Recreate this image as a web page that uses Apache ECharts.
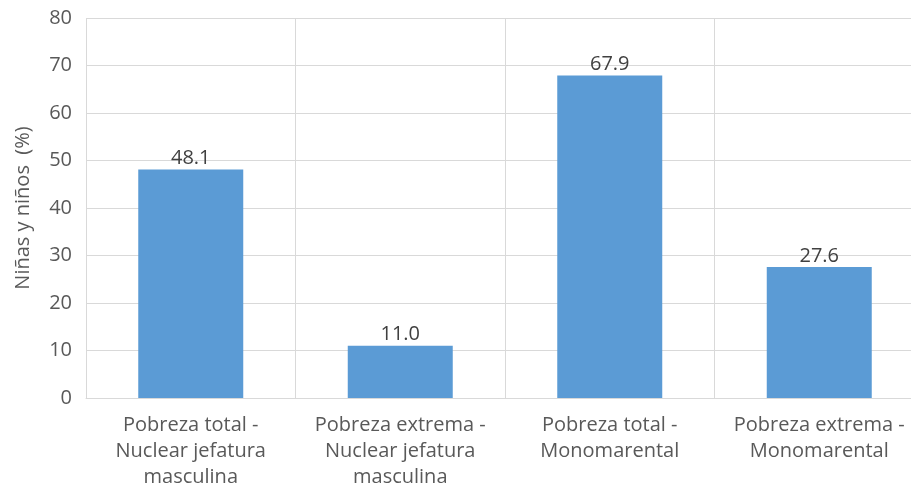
<!DOCTYPE html>
<html>
<head>
<meta charset="utf-8">
<script src="https://cdn.jsdelivr.net/npm/echarts@6/dist/echarts.min.js"></script>
<style>
  html, body { margin: 0; padding: 0; background: #ffffff; overflow: hidden; }
  #chart { width: 911px; height: 493px; }
</style>
</head>
<body>
<div id="chart"></div>
<script>
// Poverty among children by household type
const categories = [
  'Pobreza total -\nNuclear jefatura\nmasculina',
  'Pobreza extrema -\nNuclear jefatura\nmasculina',
  'Pobreza total -\nMonomarental',
  'Pobreza extrema -\nMonomarental'
];
const values = [48.1, 11.0, 67.9, 27.6];
const yTicks = { min: 0, max: 80, interval: 10 };
const yTitle = 'Niñas y niños  (%)';

const font = '"Open Sans", "Noto Sans", sans-serif';
const textColor = '#595959';
const gridColor = '#d9d9d9';

const chart = echarts.init(document.getElementById('chart'));
chart.setOption({
  animation: false,
  // the plot runs past the right edge of the canvas, so the last column is cut
  grid: {
    left: 86, width: 838, top: 18, height: 380,
    containLabel: false, outerBoundsMode: 'none'
  },
  xAxis: {
    type: 'category',
    data: categories,
    axisLine: { show: true, lineStyle: { color: gridColor, width: 1 } },
    axisTick: { show: false },
    splitLine: { show: true, lineStyle: { color: gridColor, width: 1 } },
    axisLabel: {
      color: textColor, fontFamily: font, fontSize: 20,
      lineHeight: 26, margin: 14, interval: 0
    }
  },
  yAxis: {
    type: 'value',
    min: yTicks.min, max: yTicks.max, interval: yTicks.interval,
    name: yTitle,
    nameLocation: 'middle',
    nameGap: 53,
    nameTextStyle: { color: textColor, fontFamily: font, fontSize: 20 },
    axisLine: { show: false },
    axisTick: { show: false },
    splitLine: { lineStyle: { color: gridColor, width: 1 } },
    axisLabel: { color: textColor, fontFamily: font, fontSize: 20, margin: 14 }
  },
  series: [{
    type: 'bar',
    data: values,
    barWidth: 105,
    itemStyle: { color: '#5b9bd5' },
    label: {
      show: true, position: 'top', distance: 1,
      color: '#404040', fontFamily: font, fontSize: 20,
      formatter: p => p.value.toFixed(1)
    }
  }]
});
</script>
</body>
</html>
